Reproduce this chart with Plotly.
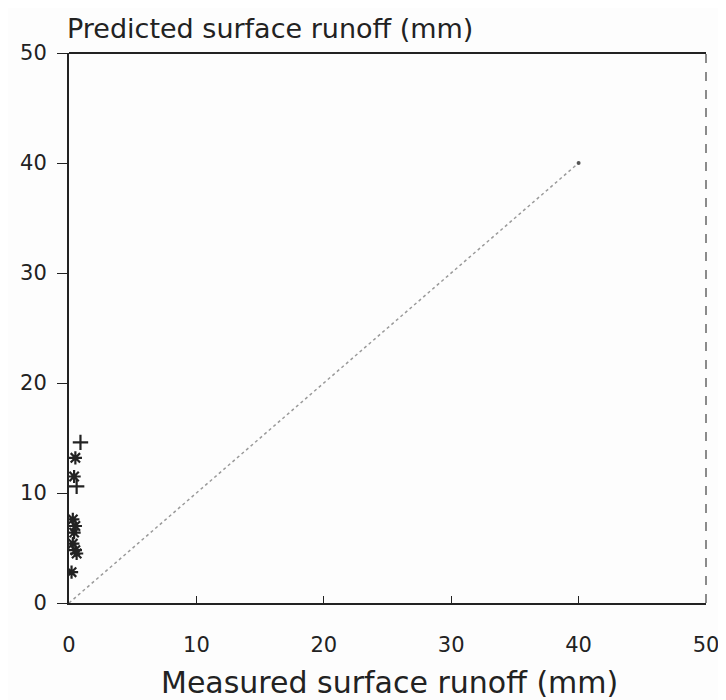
import plotly.graph_objects as go

# Data
measured = [0.9, 0.5, 0.4, 0.6, 0.3, 0.5, 0.4, 0.3, 0.5, 0.6, 0.2]
predicted = [14.6, 13.2, 11.5, 10.6, 7.6, 7.0, 6.4, 5.4, 4.8, 4.5, 2.8]
symbols = ["cross-thin-open", "asterisk-open", "asterisk-open", "cross-thin-open",
           "asterisk-open", "asterisk-open", "asterisk-open", "asterisk-open",
           "asterisk-open", "asterisk-open", "asterisk-open"]
line_x = [0, 40]
line_y = [0, 40]
x_ticks = [0, 10, 20, 30, 40, 50]
y_ticks = [0, 10, 20, 30, 40, 50]

ink = "#222222"
font_family = "DejaVu Sans, Verdana, sans-serif"

fig = go.Figure()
fig.add_trace(go.Scatter(
    x=line_x, y=line_y, mode="lines",
    line=dict(color="#9a9a9a", width=1.5, dash="dot"),
    hoverinfo="skip", showlegend=False))
fig.add_trace(go.Scatter(
    x=[line_x[-1]], y=[line_y[-1]], mode="markers",
    marker=dict(color="#555555", size=4),
    showlegend=False))
fig.add_trace(go.Scatter(
    x=measured, y=predicted, mode="markers",
    marker=dict(symbol=symbols, size=11, color=ink,
                line=dict(color=ink, width=2.2)),
    showlegend=False))

# page body has an 8px margin, so the figure is 8px smaller than the window
fig.update_layout(
    width=718, height=692,
    margin=dict(l=61, r=20, t=45, b=97, autoexpand=False),
    paper_bgcolor="#fdfdfd", plot_bgcolor="#fdfdfd",
    font=dict(family=font_family, color=ink),
    xaxis=dict(range=[0, 50], tickvals=x_ticks, ticks="inside", ticklen=7,
               tickcolor=ink, showline=True, linecolor=ink, linewidth=2,
               showgrid=False, zeroline=False, tickfont=dict(size=21),
               ticklabelstandoff=22, automargin=False),
    yaxis=dict(range=[0, 50], tickvals=y_ticks, ticks="outside", ticklen=10,
               tickcolor=ink, showline=True, linecolor=ink, linewidth=2,
               showgrid=False, zeroline=False, tickfont=dict(size=21),
               ticklabelstandoff=6, automargin=False),
    shapes=[
        dict(type="line", xref="paper", yref="paper", x0=0, x1=1, y0=1, y1=1,
             line=dict(color=ink, width=2)),
        dict(type="line", xref="paper", yref="paper", x0=1, x1=1, y0=0, y1=1,
             line=dict(color="#666666", width=1.5, dash="dash")),
    ],
    annotations=[
        dict(text="Predicted surface runoff (mm)", xref="paper", yref="paper",
             x=-0.006, y=1.045, xanchor="left", yanchor="middle",
             showarrow=False, font=dict(size=27, color=ink)),
        dict(text="Measured surface runoff (mm)", xref="paper", yref="paper",
             x=0.503, y=-0.145, xanchor="center", yanchor="middle",
             showarrow=False, font=dict(size=30, color=ink)),
    ],
)

fig.write_html("out.html")
